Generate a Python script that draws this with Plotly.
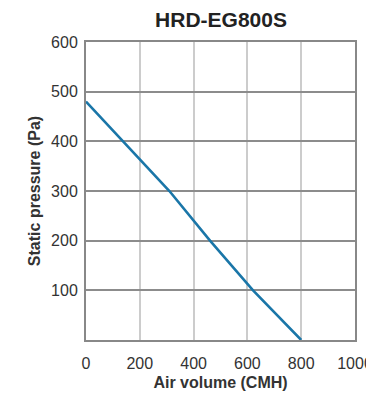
import plotly.graph_objects as go

title = "HRD-EG800S"
air_volume = [0, 139, 310, 461, 621, 800]
static_pressure = [480, 400, 300, 200, 100, 0]
x_ticks = [0, 200, 400, 600, 800, 1000]
y_ticks = [100, 200, 300, 400, 500, 600]

FONT = "Liberation Sans, Arial, sans-serif"

fig = go.Figure()
fig.add_trace(go.Scatter(
    x=air_volume, y=static_pressure, mode="lines",
    line=dict(color="#1a76a8", width=2.6), showlegend=False,
))

fig.update_layout(
    width=366, height=401,
    margin=dict(l=86, r=11, t=42, b=61),
    paper_bgcolor="white", plot_bgcolor="white",
    title=dict(text=f"<b>{title}</b>", x=0.604, xanchor="center", y=0.95, yanchor="middle",
               font=dict(family=FONT, size=21, color="#222")),
    font=dict(family=FONT, color="#333"),
)
fig.update_xaxes(
    range=[0, 1000], tickvals=x_ticks, ticktext=[str(v) for v in x_ticks],
    showgrid=True, gridcolor="#cccccc", gridwidth=2,
    showline=True, linecolor="#888888", linewidth=2, mirror=True,
    zeroline=False, ticks="", ticklabelstandoff=8, automargin=False,
    ticklabeloverflow="allow",
    tickfont=dict(family=FONT, size=16, color="#333"),
    title=dict(text="<b>Air volume (CMH)</b>", standoff=6,
               font=dict(family=FONT, size=16, color="#333")),
)
fig.update_yaxes(
    range=[0, 600], tickvals=y_ticks, ticktext=[str(v) for v in y_ticks],
    showgrid=True, gridcolor="#8c8c8c", gridwidth=1.5,
    showline=True, linecolor="#888888", linewidth=2, mirror=True,
    zeroline=False, ticks="", ticklabelstandoff=3, automargin=False,
    tickfont=dict(family=FONT, size=16, color="#333"),
    title=dict(text="<b>Static pressure (Pa)</b>", standoff=6,
               font=dict(family=FONT, size=16, color="#333")),
)

fig.write_html("out.html", config={"displayModeBar": False},
               post_script="document.body.style.margin='0px';document.body.style.overflow='hidden';")
